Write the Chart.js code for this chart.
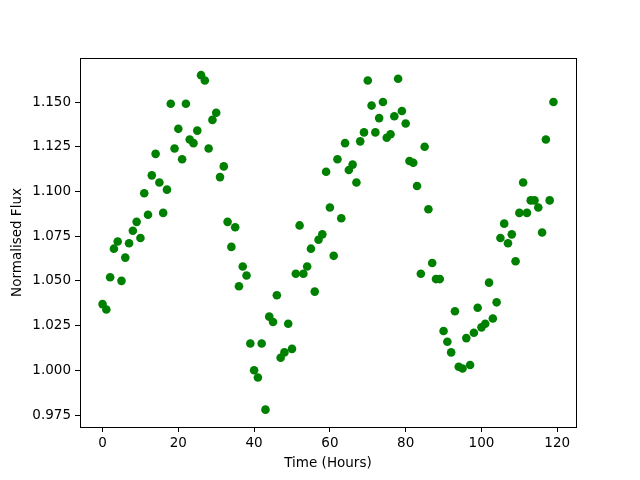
<!DOCTYPE html>
<html>
<head>
<meta charset="utf-8">
<script src="https://cdn.jsdelivr.net/npm/chart.js@4/dist/chart.umd.min.js"></script>
<style>
  html, body { margin: 0; padding: 0; background: #fff; }
  #wrap { width: 640px; height: 480px; }
</style>
</head>
<body>
<div id="wrap"><canvas id="fluxChart" width="640" height="480"></canvas></div>
<script>
// hours of observation
var hours = [];
for (var h = 0; h < 120; h++) { hours.push(h); }

// normalised flux, one per hour
var flux = [
    1.037, 1.034, 1.052, 1.068, 1.072, 1.050, 1.063, 1.071, 1.078, 1.083,
    1.074, 1.099, 1.087, 1.109, 1.121, 1.105, 1.088, 1.101, 1.149, 1.124,
    1.135, 1.118, 1.149, 1.129, 1.127, 1.134, 1.165, 1.162, 1.124, 1.140,
    1.144, 1.108, 1.114, 1.083, 1.069, 1.080, 1.047, 1.058, 1.053, 1.015,
    1.000, 0.996, 1.015, 0.978, 1.030, 1.027, 1.042, 1.007, 1.010, 1.026,
    1.012, 1.054, 1.081, 1.054, 1.058, 1.068, 1.044, 1.073, 1.076, 1.111,
    1.091, 1.064, 1.118, 1.085, 1.127, 1.112, 1.115, 1.105, 1.128, 1.133,
    1.162, 1.148, 1.133, 1.141, 1.150, 1.130, 1.132, 1.142, 1.163, 1.145,
    1.138, 1.117, 1.116, 1.103, 1.054, 1.125, 1.090, 1.060, 1.051, 1.051,
    1.022, 1.016, 1.010, 1.033, 1.002, 1.001, 1.018, 1.003, 1.021, 1.035,
    1.024, 1.026, 1.049, 1.029, 1.038, 1.074, 1.082, 1.071, 1.076, 1.061,
    1.088, 1.105, 1.088, 1.095, 1.095, 1.091, 1.077, 1.129, 1.095, 1.150
];

var xTicks = [0, 20, 40, 60, 80, 100, 120];
var yTicks = [0.975, 1.000, 1.025, 1.050, 1.075, 1.100, 1.125, 1.150];

var points = [];
for (var i = 0; i < hours.length; i++) {
    points.push({ x: hours[i], y: flux[i] });
}

// black box round the plot area, like matplotlib spines
var frame = {
    id: "frame",
    afterDraw: function(chart) {
        var a = chart.chartArea, ctx = chart.ctx;
        ctx.save();
        ctx.strokeStyle = "#000";
        ctx.lineWidth = 1;
        ctx.strokeRect(Math.round(a.left) + 0.5, Math.round(a.top) + 0.5,
            Math.round(a.right - a.left), Math.round(a.bottom - a.top));
        ctx.restore();
    }
};

var font = { family: "DejaVu Sans", size: 13.5 };

var fluxChart = new Chart(document.getElementById("fluxChart"), {
    type: "scatter",
    data: {
        datasets: [{
            label: "flux",
            data: points,
            backgroundColor: "#008000",
            borderColor: "#008000",
            pointRadius: 4.3,
            borderWidth: 0
        }]
    },
    options: {
        responsive: false,
        animation: false,
        layout: { padding: { top: 58, right: 64, left: 0, bottom: 0 } },
        plugins: { legend: { display: false }, tooltip: { enabled: false } },
        scales: {
            x: {
                type: "linear",
                min: -5.95,
                max: 124.95,
                afterBuildTicks: function(scale) {
                    scale.ticks = xTicks.map(function(v) { return { value: v }; });
                },
                afterFit: function(scale) { scale.height = 53; },
                grid: { display: true, drawOnChartArea: false, drawTicks: true, tickLength: 5, color: "#000" },
                border: { display: false },
                ticks: { color: "#000", font: font, padding: 3, maxRotation: 0,
                    callback: function(v) { return String(v); } },
                title: { display: true, text: "Time (Hours)", color: "#000", font: font, padding: { top: 0, bottom: 8 } }
            },
            y: {
                type: "linear",
                min: 0.9683,
                max: 1.1746,
                afterBuildTicks: function(scale) {
                    scale.ticks = yTicks.map(function(v) { return { value: v }; });
                },
                afterFit: function(scale) { scale.width = 80; },
                grid: { display: true, drawOnChartArea: false, drawTicks: true, tickLength: 5, color: "#000" },
                border: { display: false },
                ticks: { color: "#000", font: font, padding: 4,
                    callback: function(v) { return Number(v).toFixed(3); } },
                title: { display: true, text: "Normalised Flux", color: "#000", font: font, padding: { bottom: 0, top: 9 } }
            }
        }
    },
    plugins: [frame]
});
</script>
</body>
</html>
